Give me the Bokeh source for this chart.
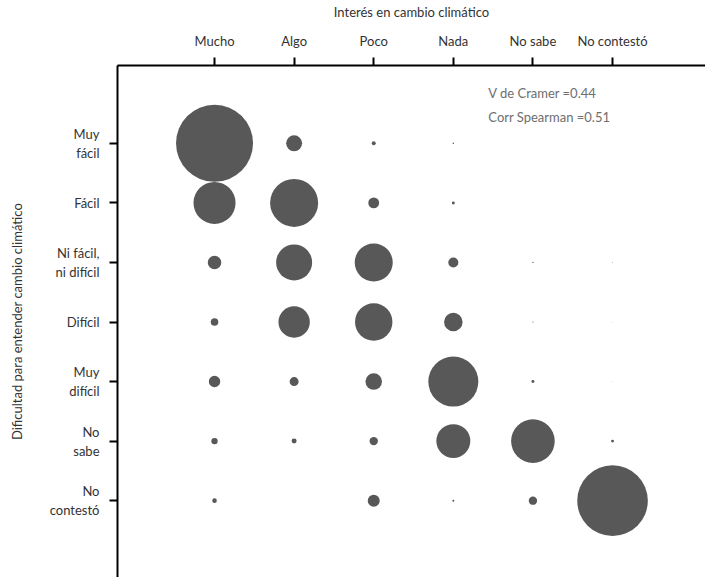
import math
from bokeh.plotting import figure
from bokeh.models import Range1d, ColumnDataSource, Label, FixedTicker
from bokeh.embed import file_html
from bokeh.resources import INLINE

interes = ["Mucho", "Algo", "Poco", "Nada", "No sabe", "No contestó"]
dificultad = ["Muy\nfácil", "Fácil", "Ni fácil,\nni difícil", "Difícil", "Muy\ndifícil", "No\nsabe", "No\ncontestó"]

# relative weights (area), one list per row of dificultad, columns follow interes
muy_facil = [100.0, 4.3, 0.27, 0.04, 0.0, 0.0]
facil = [29.8, 38.9, 2.0, 0.15, 0.0, 0.0]
ni_facil = [3.1, 21.9, 24.4, 1.7, 0.03, 0.01]
dificil = [0.97, 16.6, 23.6, 5.8, 0.02, 0.006]
muy_dificil = [2.2, 1.37, 4.6, 42.2, 0.15, 0.006]
no_sabe = [0.69, 0.42, 1.19, 19.5, 32.1, 0.15]
no_contesto = [0.36, 0.0, 2.43, 0.07, 1.19, 84.1]
rows = [muy_facil, facil, ni_facil, dificil, muy_dificil, no_sabe, no_contesto]

v_cramer = 0.44
corr_spearman = 0.51

FONT = "Lato"
TXT = "#333333"
MAX_D = 77.0

xs, ys, ds = [], [], []
for i, row in enumerate(rows):
    for j, v in enumerate(row):
        if v <= 0:
            continue
        xs.append(j)
        ys.append(i)
        ds.append(MAX_D * math.sqrt(v / 100.0))
src = ColumnDataSource(dict(x=xs, y=ys, d=ds))

p = figure(width=705, height=577, output_backend="svg", toolbar_location=None,
           x_range=Range1d(-1.219, 6.168), y_range=Range1d(7.29, -1.307),
           x_axis_location="above", min_border_left=117, min_border_top=63,
           min_border_right=0, min_border_bottom=0)
p.outline_line_color = None
p.grid.visible = False
p.background_fill_color = "white"

p.scatter("x", "y", size="d", source=src, fill_color="#585858", line_color=None)

for ax in (p.xaxis[0], p.yaxis[0]):
    ax.axis_line_width = 2
    ax.axis_line_color = "black"
    ax.major_tick_line_width = 2
    ax.major_tick_line_color = "black"
    ax.major_tick_in = 0
    ax.major_tick_out = 8
    ax.minor_tick_line_color = None
    ax.major_label_text_font = FONT
    ax.major_label_text_font_size = "13px"
    ax.major_label_text_color = TXT
    ax.axis_label_text_font = FONT
    ax.axis_label_text_font_size = "13px"
    ax.axis_label_text_font_style = "normal"
    ax.axis_label_text_color = TXT

xa = p.xaxis[0]
xa.ticker = FixedTicker(ticks=list(range(len(interes))))
xa.major_label_overrides = {i: s for i, s in enumerate(interes)}
xa.axis_label = "Interés en cambio climático"
xa.major_label_standoff = 9
xa.axis_label_standoff = 10

ya = p.yaxis[0]
ya.ticker = FixedTicker(ticks=list(range(len(dificultad))))
ya.major_label_overrides = {i: s for i, s in enumerate(dificultad)}
ya.major_label_standoff = 10
ya.axis_label = "Dificultad para entender cambio climático"
ya.axis_label_standoff = 22

p.add_layout(Label(x=3.44, y=-0.84, text=f"V de Cramer ={v_cramer}",
                   text_align="left", text_baseline="middle",
                   text_font=FONT, text_font_size="13px", text_color="#6e6e6e"))
p.add_layout(Label(x=3.44, y=-0.45, text=f"Corr Spearman ={corr_spearman}",
                   text_align="left", text_baseline="middle",
                   text_font=FONT, text_font_size="13px", text_color="#6e6e6e"))

open("out.html", "w").write(file_html(p, INLINE))
